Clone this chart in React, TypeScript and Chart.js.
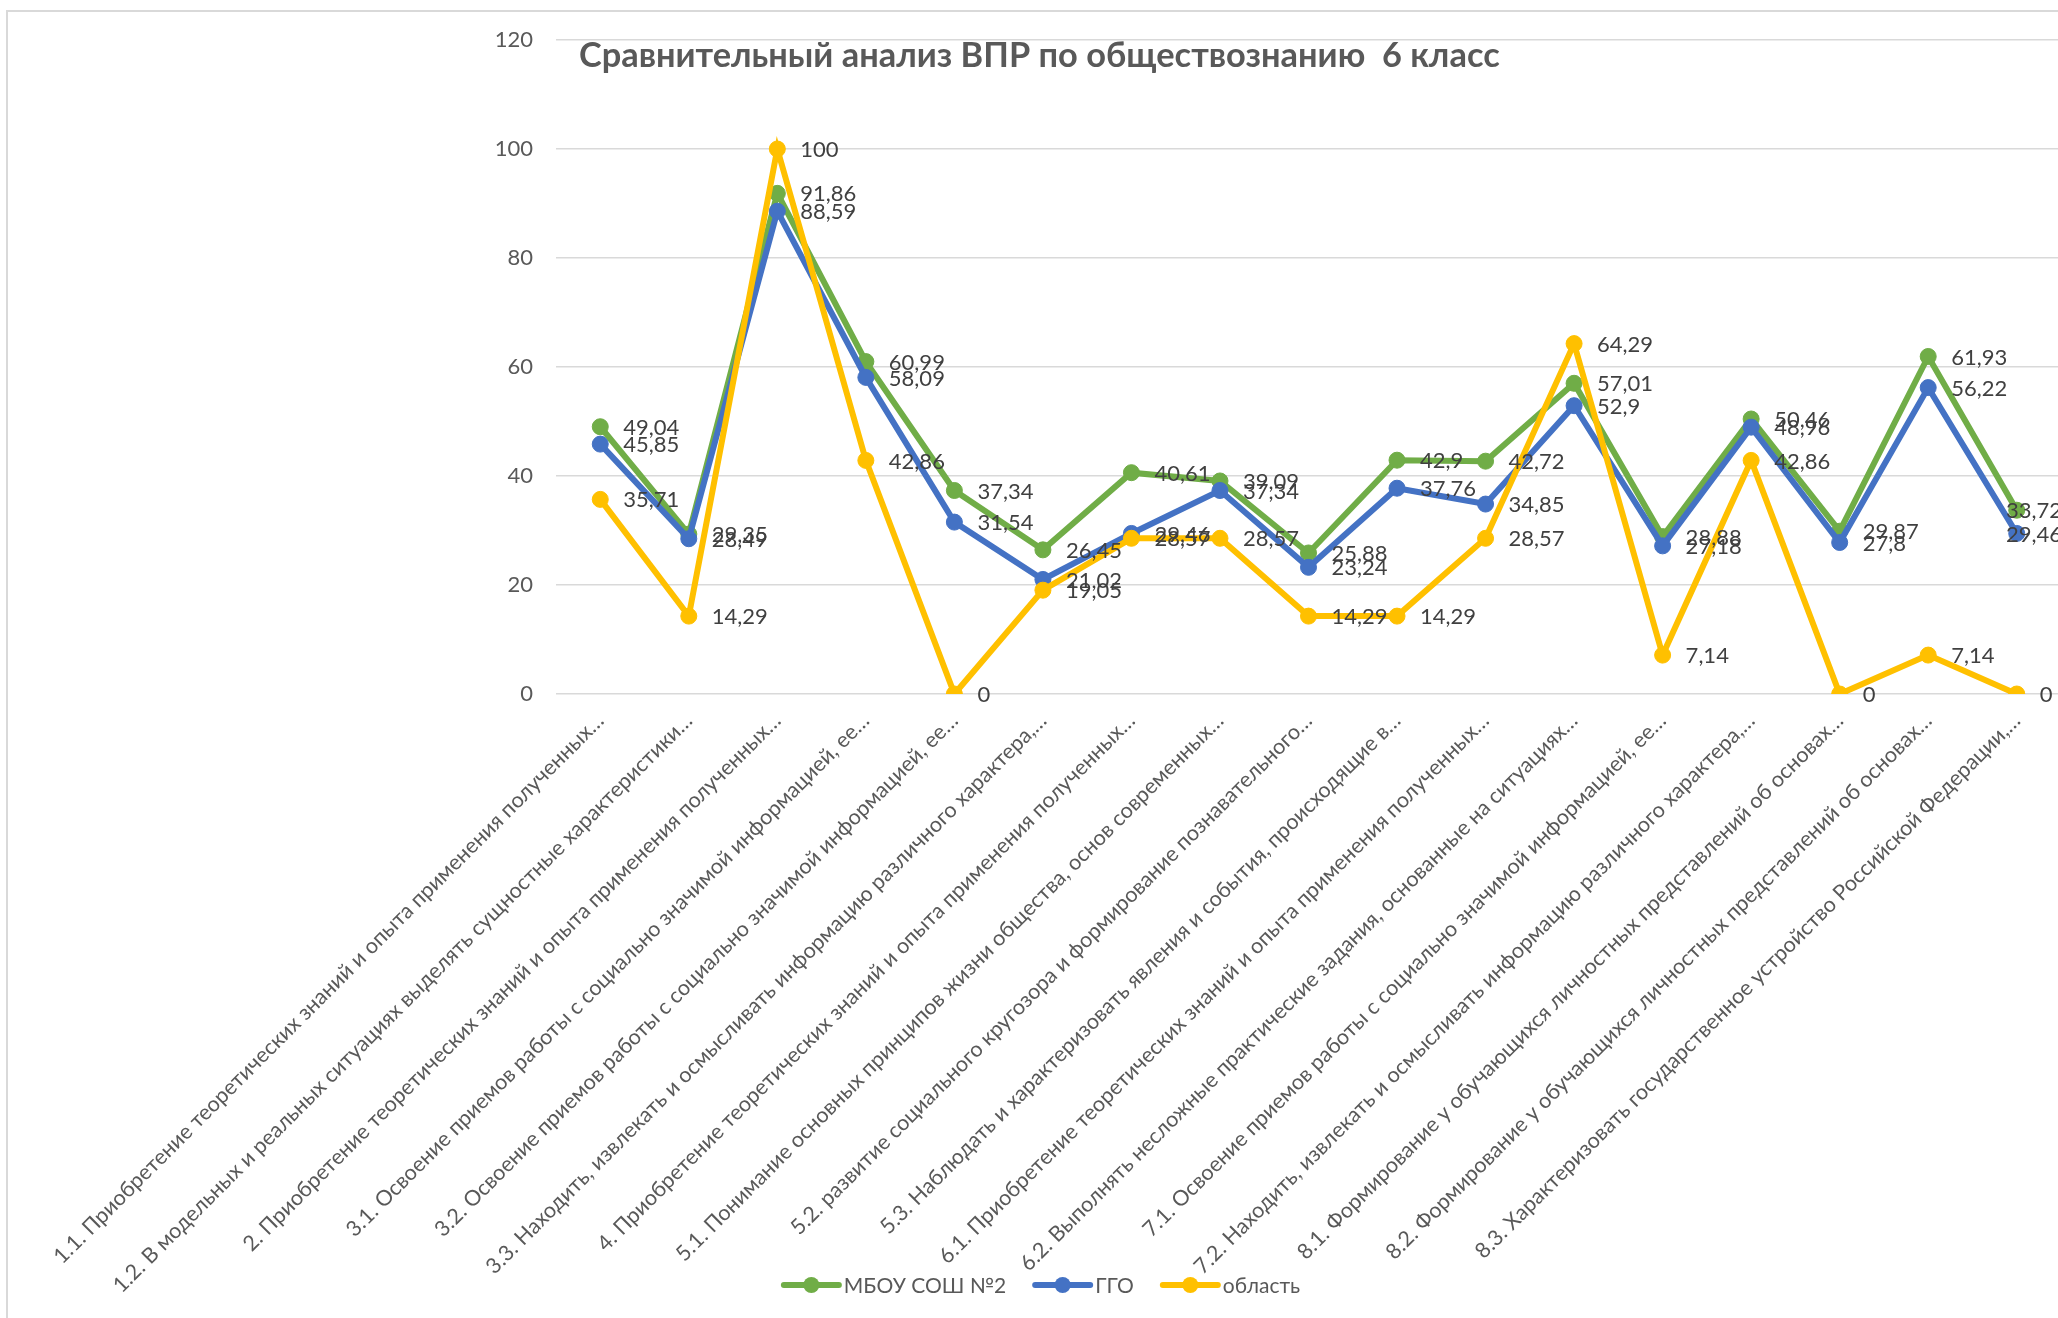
import React, { useEffect, useRef } from 'react';
import { Chart, registerables } from 'chart.js';

Chart.register(...registerables);

const TITLE = 'Сравнительный анализ ВПР по обществознанию  6 класс';

const categories = [
  '1.1. Приобретение теоретических знаний и опыта применения полученных…',
  '1.2. В модельных и реальных ситуациях выделять сущностные характеристики…',
  '2. Приобретение теоретических знаний и опыта применения полученных…',
  '3.1. Освоение приемов работы с социально значимой информацией, ее…',
  '3.2. Освоение приемов работы с социально значимой информацией, ее…',
  '3.3. Находить, извлекать и осмысливать информацию различного характера,…',
  '4. Приобретение теоретических знаний и опыта применения полученных…',
  '5.1. Понимание основных принципов жизни общества, основ современных…',
  '5.2. развитие социального кругозора и формирование познавательного…',
  '5.3. Наблюдать и характеризовать явления и события, происходящие в…',
  '6.1. Приобретение теоретических знаний и опыта применения полученных…',
  '6.2. Выполнять несложные практические задания, основанные на ситуациях…',
  '7.1. Освоение приемов работы с социально значимой информацией, ее…',
  '7.2. Находить, извлекать и осмысливать информацию различного характера,…',
  '8.1. Формирование у обучающихся личностных представлений об основах…',
  '8.2. Формирование у обучающихся личностных представлений об основах…',
  '8.3. Характеризовать государственное устройство Российской Федерации,…',
];

const seriesNames = ['МБОУ СОШ №2', 'ГГО', 'область'];

const schoolValues = [49.04, 29.35, 91.86, 60.99, 37.34, 26.45, 40.61, 39.09, 25.88, 42.9, 42.72, 57.01, 28.88, 50.46, 29.87, 61.93, 33.72];
const districtValues = [45.85, 28.49, 88.59, 58.09, 31.54, 21.02, 29.46, 37.34, 23.24, 37.76, 34.85, 52.9, 27.18, 48.96, 27.8, 56.22, 29.46];
const regionValues = [35.71, 14.29, 100, 42.86, 0, 19.05, 28.57, 28.57, 14.29, 14.29, 28.57, 64.29, 7.14, 42.86, 0, 7.14, 0];

const yTickValues = [0, 20, 40, 60, 80, 100, 120];

const seriesColors = ['#70AD47', '#4472C4', '#FFC000'];

const CANVAS_W = 2070;
const CANVAS_H = 1318;
const VIEW_W = 2058;
const FONT = 'Lato, "Open Sans", "Liberation Sans", sans-serif';
const LABEL_RIGHT_LIMIT = 2062;

const framePlugin = {
  id: 'frame',
  beforeDraw(chart: any) {
    const ctx = chart.ctx;
    ctx.save();
    ctx.fillStyle = '#ffffff';
    ctx.fillRect(0, 0, chart.width, chart.height);
    ctx.strokeStyle = '#d9d9d9';
    ctx.lineWidth = 2;
    ctx.strokeRect(7, 11, 4000, 4000);
    ctx.restore();
  },
};

const titlePlugin = {
  id: 'customTitle',
  afterDraw(chart: any) {
    const ctx = chart.ctx;
    ctx.save();
    let size = 32;
    ctx.font = `bold ${size}px ${FONT}`;
    const w = ctx.measureText(TITLE).width;
    size = size * 921 / w;
    ctx.font = `bold ${size}px ${FONT}`;
    ctx.fillStyle = '#595959';
    ctx.textAlign = 'left';
    ctx.textBaseline = 'alphabetic';
    ctx.fillText(TITLE, 579, 67);
    ctx.restore();
  },
};

const dataLabelPlugin = {
  id: 'dataLabels',
  afterDatasetsDraw(chart: any) {
    const ctx = chart.ctx;
    ctx.save();
    ctx.font = `22px ${FONT}`;
    ctx.fillStyle = '#404040';
    ctx.textBaseline = 'middle';
    ctx.textAlign = 'left';
    chart.data.datasets.forEach((ds: any, di: number) => {
      const meta = chart.getDatasetMeta(di);
      meta.data.forEach((pt: any, i: number) => {
        const txt = String(ds.data[i]).replace('.', ',');
        const w = ctx.measureText(txt).width;
        let x = pt.x + 23;
        if (x + w > LABEL_RIGHT_LIMIT) x = LABEL_RIGHT_LIMIT - w;
        ctx.fillText(txt, x, pt.y + 1);
      });
    });
    ctx.restore();
  },
};

const legendPlugin = {
  id: 'customLegend',
  afterDraw(chart: any) {
    const ctx = chart.ctx;
    ctx.save();
    ctx.font = `21px ${FONT}`;
    ctx.textBaseline = 'middle';
    ctx.textAlign = 'left';
    const lineLen = 55;
    const gapText = 5;
    const gapItem = 29;
    const items = chart.data.datasets.map((ds: any) => ({
      label: ds.label,
      color: ds.borderColor,
      w: ctx.measureText(ds.label).width,
    }));
    const total = items.reduce((s: number, it: any) => s + lineLen + gapText + it.w, 0) + gapItem * (items.length - 1);
    let x = 1042 - total / 2;
    const y = 1285;
    items.forEach((it: any) => {
      ctx.strokeStyle = it.color;
      ctx.lineWidth = 6;
      ctx.lineCap = 'round';
      ctx.beginPath();
      ctx.moveTo(x, y);
      ctx.lineTo(x + lineLen, y);
      ctx.stroke();
      ctx.fillStyle = it.color;
      ctx.beginPath();
      ctx.arc(x + lineLen / 2, y, 8, 0, Math.PI * 2);
      ctx.fill();
      ctx.fillStyle = '#595959';
      ctx.fillText(it.label, x + lineLen + gapText, y + 1);
      x += lineLen + gapText + it.w + gapItem;
    });
    ctx.restore();
  },
};

export default function App() {
  const canvasRef = useRef<HTMLCanvasElement | null>(null);

  useEffect(() => {
    if (!canvasRef.current) return;
    const seriesData = [schoolValues, districtValues, regionValues];
    const chart = new Chart(canvasRef.current, {
      type: 'line',
      data: {
        labels: categories,
        datasets: seriesNames.map((name, i) => ({
          label: name,
          data: seriesData[i],
          borderColor: seriesColors[i],
          backgroundColor: seriesColors[i],
          pointBackgroundColor: seriesColors[i],
          pointBorderColor: seriesColors[i],
          borderWidth: 6,
          pointRadius: 8,
          pointBorderWidth: 1,
          tension: 0,
          fill: false,
          order: 3 - i,
        })),
      },
      options: {
        responsive: false,
        animation: false,
        events: [],
        layout: { padding: { left: 0, right: 0, top: 40, bottom: 0 } },
        plugins: {
          legend: { display: false },
          tooltip: { enabled: false },
          title: { display: false },
        },
        scales: {
          x: {
            type: 'category',
            offset: true,
            grid: { display: false },
            border: { display: false },
            ticks: {
              autoSkip: false,
              maxRotation: 45,
              minRotation: 45,
              padding: 6,
              color: '#595959',
              font: { family: FONT, size: 21.5 },
            },
            afterFit: (scale: any) => {
              scale.height = CANVAS_H - 694;
            },
          },
          y: {
            min: 0,
            max: 120,
            afterBuildTicks: (scale: any) => {
              scale.ticks = yTickValues.map((v) => ({ value: v }));
            },
            ticks: {
              padding: 23,
              color: '#595959',
              font: { family: FONT, size: 22 },
            },
            grid: { color: '#d9d9d9', lineWidth: 1.5, drawTicks: false },
            border: { display: false },
            afterFit: (scale: any) => {
              scale.width = 556;
            },
          },
        },
      },
      plugins: [framePlugin, titlePlugin, dataLabelPlugin, legendPlugin],
    } as any);
    return () => chart.destroy();
  }, []);

  return (
    <div
      style={{
        position: 'fixed',
        left: 0,
        top: 0,
        width: VIEW_W,
        height: CANVAS_H,
        overflow: 'hidden',
        background: '#ffffff',
      }}
    >
      <canvas
        ref={canvasRef}
        width={CANVAS_W}
        height={CANVAS_H}
        style={{ display: 'block', width: CANVAS_W, height: CANVAS_H }}
      />
    </div>
  );
}
